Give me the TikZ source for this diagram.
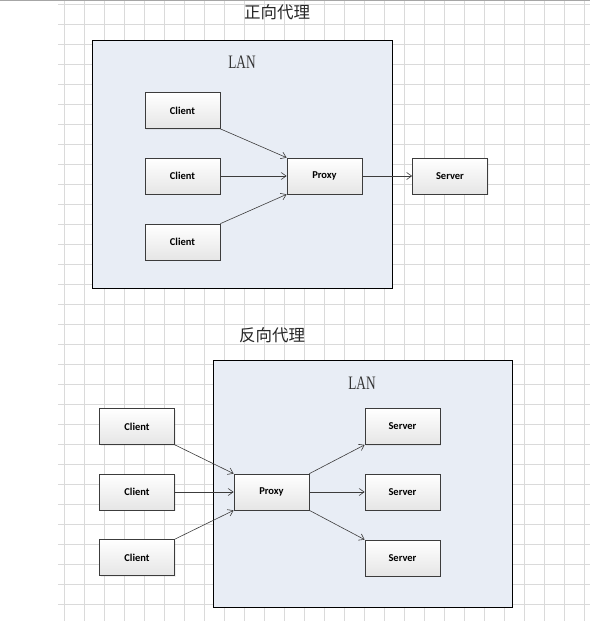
\documentclass[tikz,border=0pt]{standalone}
\usepackage{fontspec}
\setsansfont{Carlito}
\newfontfamily\cjk{Noto Sans CJK SC}
\newfontfamily\lanfont{Liberation Serif}
\usepackage{tikz}
\usetikzlibrary{arrows.meta,shadows}

\definecolor{lanfill}{RGB}{232,237,245}
\definecolor{gridgray}{RGB}{218,218,218}
\definecolor{linegray}{RGB}{60,60,60}

\tikzset{
	box/.style={shape=rectangle, draw=linegray, line width=0.7pt,
		top color=white, bottom color=black!10,
		minimum width=75, minimum height=36, inner sep=0pt,
		font=\sffamily\bfseries\fontsize{10.5}{12}\selectfont,
		drop shadow={opacity=0.12, shadow xshift=1pt, shadow yshift=-1pt}},
	lanbox/.style={draw=black, line width=1pt, fill=lanfill},
	gridline/.style={draw=gridgray, line width=0.7pt},
	link/.style={draw=linegray, line width=0.6pt, -{Straight Barb[length=5pt,width=7pt]}},
	title/.style={font=\cjk\fontsize{16.5}{18}\selectfont, text=black!85},
	lan/.style={text=black!80}
}
\newcommand{\lantext}{\scalebox{0.7}[1]{\lanfont\fontsize{19}{19}\selectfont LAN}}

\begin{document}
\begin{tikzpicture}[x=1pt, y=-1pt]
	\useasboundingbox (0,0) rectangle (590,621);
	% grid
	\foreach \x in {64,84,...,584} \draw[gridline] (\x,0) -- (\x,621);
	\foreach \y in {4,24,...,604} \draw[gridline] (58,\y) -- (590,\y);
	\draw[gray!70, line width=1pt] (0,0.5) -- (590,0.5);
	
	% forward proxy
	\node[title] (t1) at (277,12) {正向代理};
	\draw[lanbox] (92,40) rectangle (392,288);
	\node[lan] (lan1) at (242,62) {\lantext};
	
	\node[box] (c1) at (182.5,110.5) {Client};
	\node[box] (c2) at (182.5,176)   {Client};
	\node[box] (c3) at (182.5,242)   {Client};
	\node[box] (p)  at (324.5,176)   {Proxy};
	\node[box] (s)  at (450,176)     {Server};
	
	\path (c1.south east) edge[link] (p.north west);
	\path (c2) edge[link] (p);
	\path (c3.north east) edge[link] (p.south west);
	\path (p) edge[link] (s);
	
	% reverse proxy
	\node[title] (t2) at (272,335) {反向代理};
	\draw[lanbox] (213,360) rectangle (512,607);
	\node[lan] (lan2) at (362,383) {\lantext};
	
	\node[box] (rc1) at (137,426.5)   {Client};
	\node[box] (rc2) at (137,492)     {Client};
	\node[box] (rc3) at (137,557.5)   {Client};
	\node[box] (rp)  at (271.5,492)   {Proxy};
	\node[box] (rs1) at (402.5,426.5) {Server};
	\node[box] (rs2) at (402.5,492)   {Server};
	\node[box] (rs3) at (402.5,558)   {Server};
	
	\path (rc1.south east) edge[link] (rp.north west);
	\path (rc2) edge[link] (rp);
	\path (rc3.north east) edge[link] (rp.south west);
	\path (rp.north east) edge[link] (rs1.south west);
	\path (rp) edge[link] (rs2);
	\path (rp.south east) edge[link] (rs3.north west);
\end{tikzpicture}
\end{document}
